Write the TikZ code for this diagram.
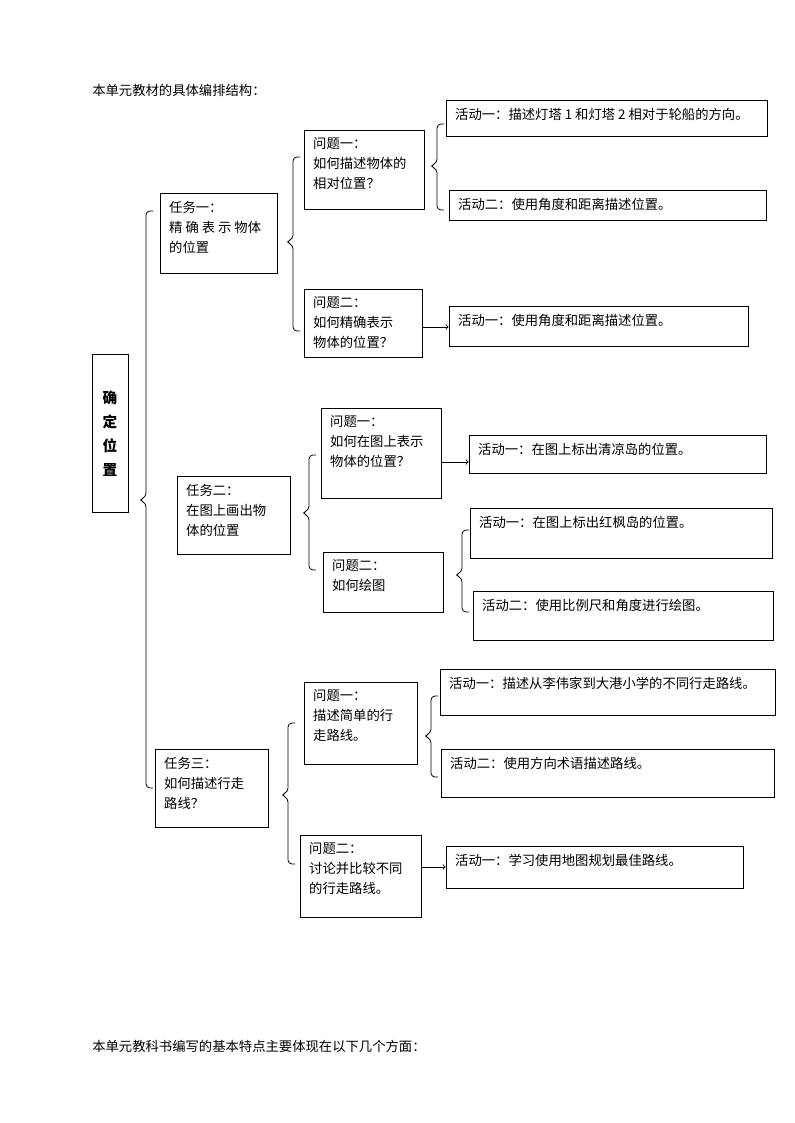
\documentclass[tikz,border=0pt]{standalone}
\usepackage{fontspec}
\setmainfont{Noto Sans CJK SC}
\begin{document}
\begin{tikzpicture}[x=0.75pt,y=-0.75pt,font=\fontsize{10pt}{15pt}\selectfont,
  box/.style={draw,line width=0.6pt,inner sep=0pt},
  txt/.style={anchor=north west,align=left,inner sep=0pt},
  arr/.style={->,line width=0.6pt},
  br/.style={line width=0.6pt,rounded corners=3pt}]
\useasboundingbox (0,0) rectangle (794,1123);
\newcommand{\bx}[6]{%
  \pgfmathsetmacro{\ww}{(#4-#2)*0.75}\pgfmathsetmacro{\hh}{(#5-#3)*0.75}%
  \node[box,minimum width=\ww pt,minimum height=\hh pt] (#1) at ({(#2+#4)/2},{(#3+#5)/2}) {};
  \node[txt] at ([xshift=7pt,yshift=-6pt]#1.north west) {#6};}
\newcommand{\brc}[4]{\draw[br] (#1+7,#2) -- (#1,#2) -- (#1,#4-3) -- (#1-7,#4) -- (#1,#4+3) -- (#1,#3) -- (#1+7,#3);}
\node[txt] (t1) at (92,84) {本单元教材的具体编排结构：};
\node[txt] (t2) at (92,1040) {本单元教科书编写的基本特点主要体现在以下几个方面：};
\node[box,minimum width=27pt,minimum height=119pt,font=\fontsize{11pt}{18pt}\selectfont\bfseries,align=center] (root) at (110,433.5) {确\\定\\位\\置};
\brc{146}{211}{788}{500}
% task 1
\bx{k1}{160}{193}{277}{273}{任务一：\\精 确 表 示 物体\\的位置}
\brc{293}{157}{331}{242}
\bx{q11}{304}{130}{424}{209}{问题一：\\如何描述物体的\\相对位置？}
\brc{437}{124}{210}{166}
\bx{a111}{446}{100}{767}{136}{活动一：描述灯塔 1 和灯塔 2 相对于轮船的方向。}
\bx{a112}{449}{190}{766}{220}{活动二：使用角度和距离描述位置。}
\bx{q12}{304}{289}{422}{357}{问题二：\\如何精确表示\\物体的位置？}
\bx{a121}{449}{306}{748}{346}{活动一：使用角度和距离描述位置。}
\draw[arr] (q12.east |- 0,327) -- (a121.west |- 0,327);
% task 2
\bx{k2}{177}{476}{290}{554}{任务二：\\在图上画出物\\体的位置}
\brc{309}{455}{570}{513}
\bx{q21}{321}{408}{441}{498}{问题一：\\如何在图上表示\\物体的位置？}
\bx{a211}{469}{435}{766}{473}{活动一：在图上标出清凉岛的位置。}
\draw[arr] (q21.east |- 0,462) -- (a211.west |- 0,462);
\bx{q22}{323}{552}{443}{612}{问题二：\\如何绘图}
\brc{462}{530}{612}{575}
\bx{a221}{470}{508}{772}{558}{活动一：在图上标出红枫岛的位置。}
\bx{a222}{473}{591}{773}{640}{活动二：使用比例尺和角度进行绘图。}
% task 3
\bx{k3}{155}{749}{268}{827}{任务三：\\如何描述行走\\路线？}
\brc{288}{723}{864}{795}
\bx{q31}{304}{682}{417}{764}{问题一：\\描述简单的行\\走路线。}
\brc{431}{696}{777}{736}
\bx{a311}{440}{669}{775}{715}{活动一：描述从李伟家到大港小学的不同行走路线。}
\bx{a312}{441}{749}{774}{797}{活动二：使用方向术语描述路线。}
\bx{q32}{300}{835}{421}{917}{问题二：\\讨论并比较不同\\的行走路线。}
\bx{a321}{446}{846}{743}{888}{活动一：学习使用地图规划最佳路线。}
\draw[arr] (q32.east |- 0,867) -- (a321.west |- 0,867);
\end{tikzpicture}
\end{document}
